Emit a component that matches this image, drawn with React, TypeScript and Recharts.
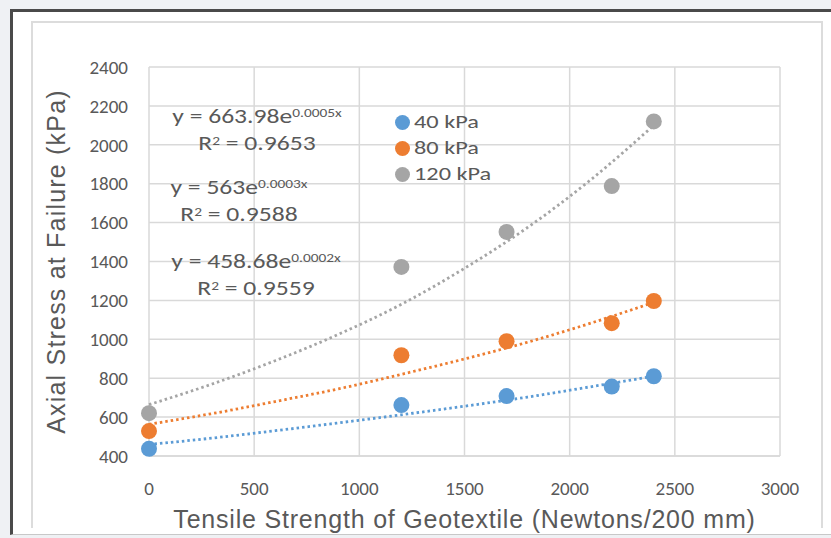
import { ComposedChart, Scatter, Line, XAxis, YAxis, CartesianGrid } from 'recharts';

const xValues = [0, 1200, 1700, 2200, 2400];
const stress40 = [437, 662, 708, 757, 810];
const stress80 = [528, 918, 990, 1083, 1197];
const stress120 = [620, 1372, 1552, 1788, 2120];

// trendline values
const trendX = [0, 300, 600, 900, 1200, 1500, 1800, 2100, 2400];
const trend40 = [459, 492, 530, 570, 612, 656, 703, 756, 810];
const trend80 = [563, 618, 680, 745, 820, 899, 985, 1083, 1190];
const trend120 = [664, 770, 890, 1025, 1180, 1365, 1575, 1820, 2100];

const xTicks = [0, 500, 1000, 1500, 2000, 2500, 3000];
const yTicks = [400, 600, 800, 1000, 1200, 1400, 1600, 1800, 2000, 2200, 2400];

const seriesNames = ['40 kPa', '80 kPa', '120 kPa'];
const colors = ['#5b9bd5', '#ed7d31', '#a5a5a5'];

const equations = [
  { base: 'y = 663.98e', exp: '0.0005x', r2: '0.9653' },
  { base: 'y = 563e', exp: '0.0003x', r2: '0.9588' },
  { base: 'y = 458.68e', exp: '0.0002x', r2: '0.9559' },
];

const pts = (ys: number[]) => xValues.map((x, i) => ({ x, y: ys[i] }));
const trend = (ys: number[]) => trendX.map((x, i) => ({ x, y: ys[i] }));

const tickFont = "'Liberation Sans Narrow', Carlito, Roboto, sans-serif";
const titleFont = "'Liberation Sans', Arial, sans-serif";

const eqPos = [
  { left: 162, top: 103 },
  { left: 144, top: 174 },
  { left: 161, top: 248 },
];

function LegendBox() {
  return (
    <div style={{ position: 'absolute', left: 395, top: 109, fontFamily: tickFont, fontSize: 19, color: '#595959', lineHeight: '26px' }}>
      {seriesNames.map((n, i) => (
        <div key={n} style={{ display: 'flex', alignItems: 'center' }}>
          <span style={{ width: 15, height: 15, borderRadius: '50%', background: colors[i], display: 'inline-block', marginRight: 4 }} />
          <span style={{ display: 'inline-block', transform: 'scaleX(1.28)', transformOrigin: 'left center' }}>{n}</span>
        </div>
      ))}
    </div>
  );
}

export default function App() {
  return (
    <div style={{ position: 'absolute', left: 0, top: 0, width: 831, height: 538, background: '#eff1f4', overflow: 'hidden' }}>
      <div style={{ position: 'absolute', left: 10, top: 9, width: 821, height: 526, borderLeft: '3px solid #4a4a4a', borderTop: '3px solid #4a4a4a', borderBottom: '1px solid #c8c8c8', background: '#fff', boxSizing: 'border-box' }} />
      <div style={{ position: 'absolute', left: 31, top: 21, width: 792, height: 507, borderLeft: '2px solid #dcdcdc', borderTop: '2px solid #dcdcdc', borderRight: '2px solid #dcdcdc', boxSizing: 'border-box' }} />
      <div style={{ position: 'absolute', left: 0, top: 0 }}>
        <ComposedChart width={831} height={538} margin={{ top: 67, right: 51, left: 79, bottom: 52 }}>
          <CartesianGrid stroke="#d9d9d9" strokeWidth={1.5} />
          <XAxis
            dataKey="x"
            type="number"
            domain={[0, 3000]}
            ticks={xTicks}
            allowDuplicatedCategory={false}
            axisLine={{ stroke: '#d9d9d9', strokeWidth: 1.5 }}
            tickLine={false}
            tickSize={0}
            tickMargin={26}
            height={30}
            tick={{ fill: '#595959', fontSize: 19, fontFamily: tickFont }}
            label={{ value: 'Tensile Strength of Geotextile (Newtons/200 mm)', position: 'insideBottom', offset: -42, fill: '#595959', fontSize: 25, letterSpacing: 0.8, fontFamily: titleFont }}
          />
          <YAxis
            type="number"
            domain={[400, 2400]}
            ticks={yTicks}
            axisLine={false}
            tickLine={false}
            tickSize={0}
            tickMargin={21}
            width={70}
            tick={{ fill: '#595959', fontSize: 19, fontFamily: tickFont }}
            label={{ value: 'Axial Stress at Failure (kPa)', angle: -90, position: 'insideLeft', offset: -23, fill: '#595959', fontSize: 25, letterSpacing: 1.2, fontFamily: titleFont, style: { textAnchor: 'middle' } }}
          />
          {[trend40, trend80, trend120].map((t, i) => (
            <Line
              key={'t' + i}
              data={trend(t)}
              dataKey="y"
              type="monotone"
              stroke={colors[i]}
              strokeWidth={2.8}
              strokeDasharray="2.5 3"
              dot={false}
              activeDot={false}
              legendType="none"
              isAnimationActive={false}
            />
          ))}
          {[stress40, stress80, stress120].map((s, i) => (
            <Scatter
              key={'s' + i}
              name={seriesNames[i]}
              data={pts(s)}
              dataKey="y"
              fill={colors[i]}
              shape={(p: any) => <circle cx={p.cx} cy={p.cy} r={8} fill={colors[i]} />}
              isAnimationActive={false}
            />
          ))}
        </ComposedChart>
      </div>
      <LegendBox />
      {equations.map((e, i) => (
        <div key={i} style={{ position: 'absolute', left: eqPos[i].left, top: eqPos[i].top, width: 190, textAlign: 'center', fontFamily: tickFont, fontSize: 20, color: '#595959', lineHeight: '27px', transform: 'scaleX(1.28)', transformOrigin: 'center' }}>
          <div>
            {e.base}
            <sup style={{ fontSize: 12, verticalAlign: 'top', position: 'relative', top: -3 }}>{e.exp}</sup>
          </div>
          <div>
            R<sup style={{ fontSize: 12, verticalAlign: 'top', position: 'relative', top: -2 }}>2</sup> = {e.r2}
          </div>
        </div>
      ))}
    </div>
  );
}
